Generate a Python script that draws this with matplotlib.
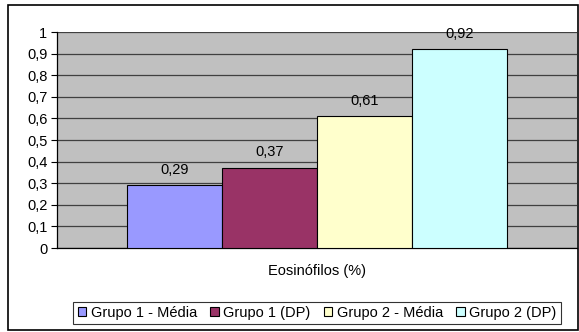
import matplotlib
matplotlib.use("Agg")
import matplotlib.pyplot as plt
import matplotlib.patches as mpatches
import numpy as np

plt.rcParams['font.family'] = ['Liberation Sans', 'DejaVu Sans']

# data
series = ['Grupo 1 - Média', 'Grupo 1 (DP)', 'Grupo 2 - Média', 'Grupo 2 (DP)']
values = [0.29, 0.37, 0.61, 0.92]
labels = ['0,29', '0,37', '0,61', '0,92']
colors = ['#9999FF', '#993366', '#FFFFCC', '#CCFFFF']
category = 'Eosinófilos (%)'
yticks = [0, 0.1, 0.2, 0.3, 0.4, 0.5, 0.6, 0.7, 0.8, 0.9, 1]
ytick_labels = ['0', '0,1', '0,2', '0,3', '0,4', '0,5', '0,6', '0,7', '0,8', '0,9', '1']

W, H = 579, 332
fs = 10.5
fig = plt.figure(figsize=(W / 100, H / 100), dpi=100)

# outer chart border
fig.patches.append(mpatches.Rectangle((8 / W, 2 / H), (570 / W), (325 / H),
                                      transform=fig.transFigure, fill=False,
                                      edgecolor='black', linewidth=1.2))

ax = fig.add_axes([57 / W, (H - 248) / H, (577 - 57) / W, (248 - 32) / H])
ax.set_facecolor('#C0C0C0')

bw = 95 / 520
offsets = (np.arange(len(values)) - 1.5) * bw
for off, v, c, lab, name in zip(offsets, values, colors, labels, series):
    ax.bar(off, v, width=bw, color=c, edgecolor='black', linewidth=0.8, label=name, zorder=3)
    ax.text(off, v + 0.04, lab, ha='center', va='bottom', fontsize=fs, zorder=4)

ax.set_xlim(-0.5, 0.5)
ax.set_ylim(0, 1)
ax.set_yticks(yticks)
ax.set_yticklabels(ytick_labels, fontsize=fs)
ax.set_xticks([])
ax.yaxis.grid(True, color='#404040', linewidth=0.9, zorder=1)
ax.set_axisbelow(True)
ax.tick_params(axis='y', direction='out', length=4, width=0.8, pad=3)
for s in ['top', 'right']:
    ax.spines[s].set_visible(False)
ax.spines['left'].set_linewidth(0.9)
ax.spines['bottom'].set_linewidth(0.9)

fig.text(317 / W, 1 - 271 / H, category, ha='center', va='center', fontsize=fs)

leg = fig.legend(loc='center', bbox_to_anchor=(317 / W, 1 - 313 / H), ncol=4,
                 fontsize=fs, frameon=True, fancybox=False, edgecolor='black',
                 handlelength=0.6, handleheight=0.6, handletextpad=0.3,
                 columnspacing=0.9, borderpad=0.3, borderaxespad=0)
leg.get_frame().set_linewidth(0.8)
for h in leg.legend_handles:
    h.set_edgecolor('black')
    h.set_linewidth(0.8)

fig.savefig('out.png', dpi=100)
